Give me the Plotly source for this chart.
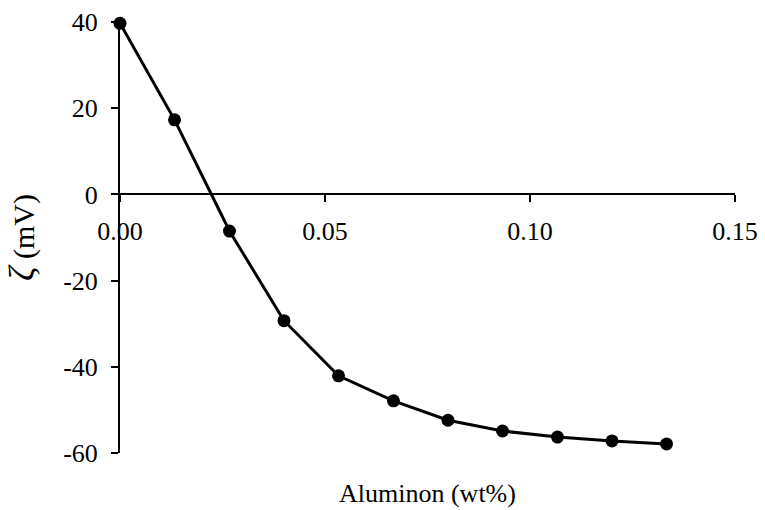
import plotly.graph_objects as go

aluminon_wt = [0.0, 0.0133, 0.0267, 0.04, 0.0533, 0.0667, 0.08, 0.0933, 0.1067, 0.12, 0.1333]
zeta_mV = [39.7, 17.3, -8.5, -29.3, -42.1, -47.9, -52.4, -54.9, -56.3, -57.2, -57.9]

x_ticks = [0.0, 0.05, 0.10, 0.15]
x_tick_text = ["0.00", "0.05", "0.10", "0.15"]
y_ticks = [-60, -40, -20, 0, 20, 40]
y_tick_text = ["-60", "-40", "-20", "0", "20", "40"]

FONT = "Liberation Serif"
y_min, y_max = -60, 40

fig = go.Figure()
fig.add_trace(go.Scatter(
    x=aluminon_wt, y=zeta_mV, mode="lines+markers",
    line=dict(color="black", width=3),
    marker=dict(color="black", size=13),
    cliponaxis=False, showlegend=False,
))

fig.update_layout(
    width=765, height=510,
    margin=dict(l=120, r=30, t=22, b=57),
    paper_bgcolor="white", plot_bgcolor="white",
    font=dict(family=FONT, size=26, color="black"),
    xaxis=dict(
        range=[0, 0.15], tickvals=x_ticks, ticktext=x_tick_text,
        showgrid=False, zeroline=False, showline=True, linecolor="black", linewidth=2,
        ticks="outside", ticklen=7, tickwidth=2, tickcolor="black",
        anchor="free", position=(0 - y_min) / (y_max - y_min),
        ticklabelstandoff=6, automargin=False,
    ),
    yaxis=dict(
        range=[y_min, y_max], tickvals=y_ticks, ticktext=y_tick_text,
        showgrid=False, zeroline=False, showline=True, linecolor="black", linewidth=2,
        ticks="outside", ticklen=7, tickwidth=2, tickcolor="black",
        ticklabelstandoff=8, automargin=False,
        title=dict(text="<span style='font-size:36px'><i>ζ</i></span>"
                        "<span style='font-size:30px'> (mV)</span>",
                   standoff=20, font=dict(size=30)),
    ),
    annotations=[dict(
        text="Aluminon (wt%)", xref="paper", yref="paper", x=0.5, y=0,
        yshift=-40, showarrow=False, yanchor="middle", font=dict(size=26),
    )],
)

fig.write_html("out.html")
